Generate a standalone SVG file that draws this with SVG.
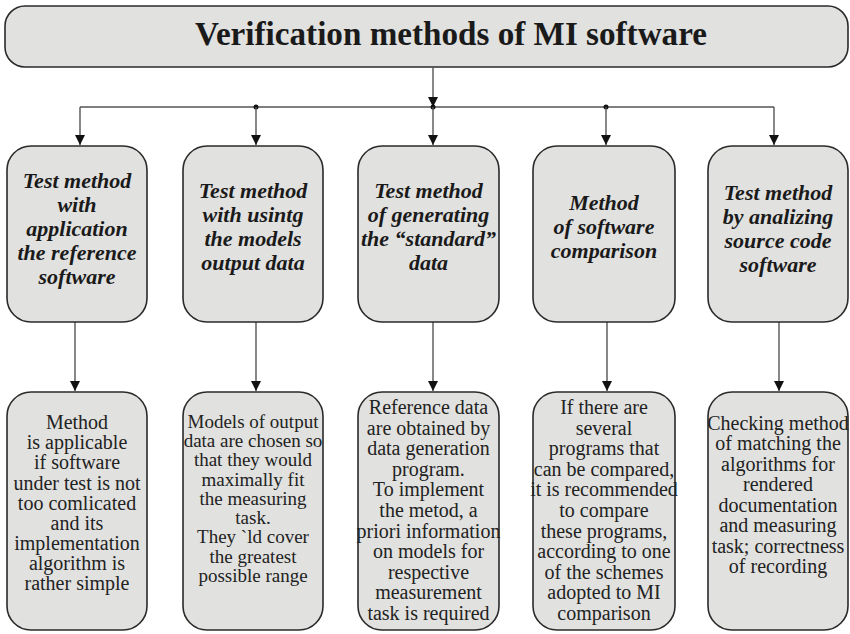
<svg xmlns="http://www.w3.org/2000/svg" width="850" height="634" viewBox="0 0 850 634">
<defs>
<style>
.box{fill:#e1e1df;stroke:#2a2a2a;stroke-width:1.6}
.title{font-family:"Liberation Serif","Times New Roman",serif;font-weight:bold;font-size:33px;fill:#1a1a1a}
.hd{font-family:"Liberation Serif","Times New Roman",serif;font-weight:bold;font-style:italic;font-size:22px;fill:#1a1a1a;text-anchor:middle}
.bd{font-family:"Liberation Serif","Times New Roman",serif;font-size:20px;fill:#222;text-anchor:middle}
.sm{font-size:19px}
.ln{fill:none;stroke:#555;stroke-width:1.4}
.dot{fill:#111}
</style>
<marker id="ah" viewBox="0 0 10 12" refX="10" refY="6" markerWidth="10" markerHeight="12" markerUnits="userSpaceOnUse" orient="auto">
<path d="M0,1 L10,6 L0,11 Z" fill="#111"/>
</marker>
</defs>
<rect width="850" height="634" fill="#ffffff"/>

<g id="title">
<rect class="box" x="5" y="6" width="843" height="61" rx="20"/>
<text class="title" x="195" y="45" textLength="512" lengthAdjust="spacingAndGlyphs">Verification methods of MI software</text>
</g>

<g id="connectors">
<line class="ln" x1="433" y1="67" x2="433" y2="107" marker-end="url(#ah)"/>
<line class="ln" x1="80" y1="107" x2="774" y2="107"/>
<circle class="dot" cx="256" cy="107" r="2.5"/>
<circle class="dot" cx="433" cy="107" r="2.5"/>
<circle class="dot" cx="606" cy="107" r="2.5"/>
<line class="ln" x1="80" y1="107" x2="80" y2="145" marker-end="url(#ah)"/>
<line class="ln" x1="256" y1="107" x2="256" y2="145" marker-end="url(#ah)"/>
<line class="ln" x1="433" y1="107" x2="433" y2="145" marker-end="url(#ah)"/>
<line class="ln" x1="606" y1="107" x2="606" y2="145" marker-end="url(#ah)"/>
<line class="ln" x1="774" y1="107" x2="774" y2="145" marker-end="url(#ah)"/>
<line class="ln" x1="75" y1="322" x2="75" y2="391" marker-end="url(#ah)"/>
<line class="ln" x1="256" y1="322" x2="256" y2="391" marker-end="url(#ah)"/>
<line class="ln" x1="433" y1="322" x2="433" y2="391" marker-end="url(#ah)"/>
<line class="ln" x1="607" y1="322" x2="607" y2="391" marker-end="url(#ah)"/>
<line class="ln" x1="779" y1="322" x2="779" y2="391" marker-end="url(#ah)"/>
</g>

<g id="h1">
<rect class="box" x="7" y="146" width="140" height="176" rx="24"/>
<text class="hd"><tspan x="77" y="188">Test method</tspan><tspan x="77" y="212">with</tspan><tspan x="77" y="236">application</tspan><tspan x="77" y="260">the reference</tspan><tspan x="77" y="284">software</tspan></text>
</g>
<g id="h2">
<rect class="box" x="183" y="146" width="140" height="176" rx="24"/>
<text class="hd"><tspan x="253" y="198">Test method</tspan><tspan x="253" y="222">with usintg</tspan><tspan x="253" y="246">the models</tspan><tspan x="253" y="270">output data</tspan></text>
</g>
<g id="h3">
<rect class="box" x="358" y="146" width="141" height="176" rx="24"/>
<text class="hd"><tspan x="428.5" y="198">Test method</tspan><tspan x="428.5" y="222">of generating</tspan><tspan x="428.5" y="246">the “standard”</tspan><tspan x="428.5" y="270">data</tspan></text>
</g>
<g id="h4">
<rect class="box" x="533" y="146" width="142" height="176" rx="24"/>
<text class="hd"><tspan x="604" y="210">Method</tspan><tspan x="604" y="234">of software</tspan><tspan x="604" y="258">comparison</tspan></text>
</g>
<g id="h5">
<rect class="box" x="708" y="146" width="140" height="176" rx="24"/>
<text class="hd"><tspan x="778" y="200">Test method</tspan><tspan x="778" y="224">by analizing</tspan><tspan x="778" y="248">source code</tspan><tspan x="778" y="272">software</tspan></text>
</g>

<g id="b1">
<rect class="box" x="7" y="392" width="140" height="238" rx="24"/>
<text class="bd"><tspan x="77" y="429">Method</tspan><tspan x="77" y="449">is applicable</tspan><tspan x="77" y="469">if software</tspan><tspan x="77" y="490">under test is not</tspan><tspan x="77" y="510">too comlicated</tspan><tspan x="77" y="530">and its</tspan><tspan x="77" y="550">implementation</tspan><tspan x="77" y="570">algorithm is</tspan><tspan x="77" y="590">rather simple</tspan></text>
</g>
<g id="b2">
<rect class="box" x="183" y="392" width="140" height="238" rx="24"/>
<text class="bd sm"><tspan x="253" y="428">Models of output</tspan><tspan x="253" y="447">data are chosen so</tspan><tspan x="253" y="466">that they would</tspan><tspan x="253" y="486">maximally fit</tspan><tspan x="253" y="505">the measuring</tspan><tspan x="253" y="524">task.</tspan><tspan x="253" y="543">They `ld cover</tspan><tspan x="253" y="563">the greatest</tspan><tspan x="253" y="582">possible range</tspan></text>
</g>
<g id="b3">
<rect class="box" x="358" y="392" width="141" height="238" rx="24"/>
<text class="bd"><tspan x="428.5" y="414">Reference data</tspan><tspan x="428.5" y="435">are obtained by</tspan><tspan x="428.5" y="455">data generation</tspan><tspan x="428.5" y="476">program.</tspan><tspan x="428.5" y="496">To implement</tspan><tspan x="428.5" y="517">the metod, a</tspan><tspan x="428.5" y="538">priori information</tspan><tspan x="428.5" y="558">on models for</tspan><tspan x="428.5" y="579">respective</tspan><tspan x="428.5" y="599">measurement</tspan><tspan x="428.5" y="620">task is required</tspan></text>
</g>
<g id="b4">
<rect class="box" x="533" y="392" width="142" height="238" rx="24"/>
<text class="bd"><tspan x="604" y="414">If there are</tspan><tspan x="604" y="435">several</tspan><tspan x="604" y="455">programs that</tspan><tspan x="604" y="476">can be compared,</tspan><tspan x="604" y="496">it is recommended</tspan><tspan x="604" y="517">to compare</tspan><tspan x="604" y="538">these programs,</tspan><tspan x="604" y="558">according to one</tspan><tspan x="604" y="579">of the schemes</tspan><tspan x="604" y="599">adopted to MI</tspan><tspan x="604" y="620">comparison</tspan></text>
</g>
<g id="b5">
<rect class="box" x="708" y="392" width="140" height="238" rx="24"/>
<text class="bd"><tspan x="778" y="430">Checking method</tspan><tspan x="778" y="450">of matching the</tspan><tspan x="778" y="471">algorithms for</tspan><tspan x="778" y="491">rendered</tspan><tspan x="778" y="512">documentation</tspan><tspan x="778" y="532">and measuring</tspan><tspan x="778" y="553">task; correctness</tspan><tspan x="778" y="573">of recording</tspan></text>
</g>
</svg>
